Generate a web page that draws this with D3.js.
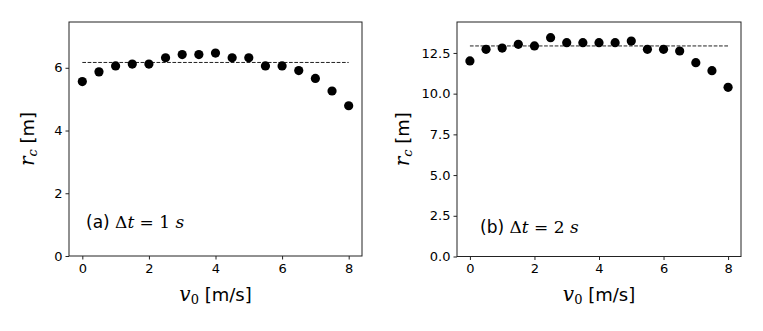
<!DOCTYPE html>
<html>
<head>
<meta charset="utf-8">
<script src="https://cdn.jsdelivr.net/npm/d3@7"></script>
<style>
  body { margin: 0; background: #fff; }
  .tick text { font-family: "DejaVu Sans", sans-serif; font-size: 13px; fill: #000; }
  .math { font-family: "DejaVu Serif", "Liberation Serif", serif; font-style: italic; }
  .sans { font-family: "DejaVu Sans", sans-serif; }
</style>
</head>
<body>
<div id="container"></div>
<script>
const v0 = [0, 0.5, 1, 1.5, 2, 2.5, 3, 3.5, 4, 4.5, 5, 5.5, 6, 6.5, 7, 7.5, 8]

const rcA = [5.56, 5.87, 6.06, 6.12, 6.12, 6.32, 6.42, 6.42, 6.47, 6.32, 6.32, 6.06, 6.06, 5.91, 5.66, 5.26, 4.79]
const rcB = [12.01, 12.72, 12.80, 13.03, 12.93, 13.44, 13.13, 13.13, 13.13, 13.13, 13.23, 12.72, 12.72, 12.62, 11.90, 11.41, 10.39]

const refA = 6.17
const refB = 12.93

const xTicks = [0, 2, 4, 6, 8]
const yTicksA = [0, 2, 4, 6]
const yTicksB = [0, 2.5, 5, 7.5, 10, 12.5]

const width = 763
const height = 331

const svg = d3.select("#container").append("svg")
    .attr("width", width)
    .attr("height", height)

function panel(opts){
    const { left, right, top, bottom, ymax, values, ref, yTicks, yFmt, labelX, tag, dt, tagX, tagY } = opts

    const x = d3.scaleLinear().domain([-0.4, 8.4]).range([left, right])
    const y = d3.scaleLinear().domain([0, ymax]).range([bottom, top])

    const g = svg.append("g")

    // reference line
    g.append("line")
        .attr("x1", x(0)).attr("x2", x(8))
        .attr("y1", y(ref)).attr("y2", y(ref))
        .attr("stroke", "#222")
        .attr("stroke-width", 1)
        .attr("stroke-dasharray", "3.7,1.6")

    g.selectAll(".dot")
        .data(v0)
        .enter().append("circle")
        .attr("class", "dot")
        .attr("cx", d => x(d))
        .attr("cy", (d, i) => y(values[i]))
        .attr("r", 4.6)
        .attr("fill", "#000")

    const xAxis = g.append("g")
        .attr("transform", `translate(0,${bottom})`)
        .call(d3.axisBottom(x).tickValues(xTicks).tickSize(3.5).tickPadding(4).tickFormat(d3.format("d")))
    const yAxis = g.append("g")
        .attr("transform", `translate(${left},0)`)
        .call(d3.axisLeft(y).tickValues(yTicks).tickSize(3.5).tickPadding(3).tickFormat(yFmt))
    for (const a of [xAxis, yAxis]) {
        a.select(".domain").remove()
        a.selectAll(".tick line").attr("stroke", "#222")
    }

    g.append("rect")
        .attr("x", left).attr("y", top)
        .attr("width", right - left).attr("height", bottom - top)
        .attr("fill", "none")
        .attr("stroke", "#222")
        .attr("stroke-width", 1)

    // x label
    const xl = g.append("text")
        .attr("x", (left + right) / 2)
        .attr("y", 301)
        .attr("text-anchor", "middle")
        .style("font-size", "18px")
    xl.append("tspan").attr("class", "math").style("font-size", "20px").text("v")
    xl.append("tspan").attr("class", "math").style("font-style", "normal").style("font-size", "13px").attr("dy", 3).text("0")
    xl.append("tspan").attr("class", "sans").attr("dy", -3).text(" [m/s]")

    // y label
    const yl = g.append("text")
        .attr("transform", `translate(${labelX},${(top + bottom) / 2}) rotate(-90)`)
        .attr("text-anchor", "middle")
        .style("font-size", "18px")
    yl.append("tspan").attr("class", "math").style("font-size", "20px").text("r")
    yl.append("tspan").attr("class", "math").style("font-size", "13px").attr("dy", 3).text("c")
    yl.append("tspan").attr("class", "sans").attr("dy", -3).text(" [m]")

    // annotation
    const an = g.append("text")
        .attr("x", tagX)
        .attr("y", tagY)
        .style("font-size", "17px")
    an.append("tspan").attr("class", "sans").text(`(${tag}) `)
    an.append("tspan").attr("class", "math").style("font-style", "normal").text("Δ")
    an.append("tspan").attr("class", "math").text("t")
    an.append("tspan").attr("class", "math").style("font-style", "normal").text(` = ${dt} `)
    an.append("tspan").attr("class", "math").text("s")
}

panel({
    left: 69, right: 362, top: 22, bottom: 256,
    ymax: 7.46, values: rcA, ref: refA, yTicks: yTicksA,
    yFmt: d3.format("d"), labelX: 34, tag: "a", dt: 1, tagX: 86, tagY: 228
})

panel({
    left: 457, right: 741, top: 22, bottom: 256.5,
    ymax: 14.4, values: rcB, ref: refB, yTicks: yTicksB,
    yFmt: d3.format(".1f"), labelX: 409, tag: "b", dt: 2, tagX: 480, tagY: 233
})
</script>
</body>
</html>
